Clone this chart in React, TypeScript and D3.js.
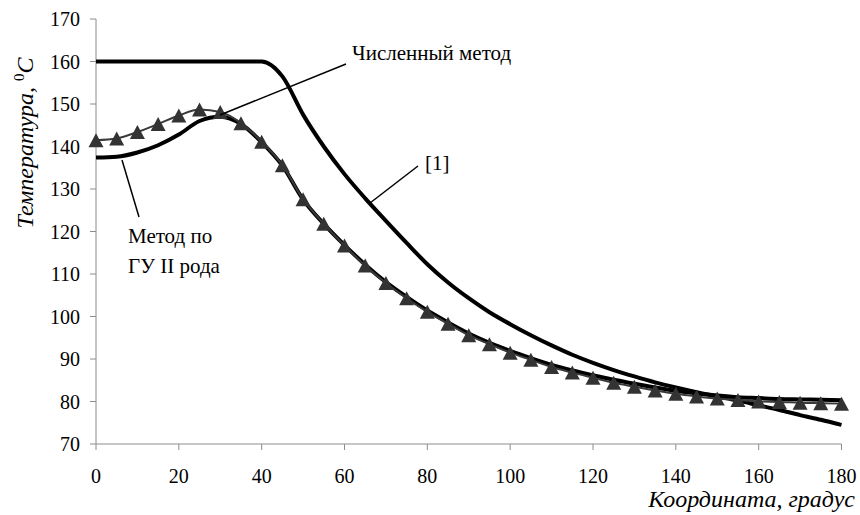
import React from "react";
import * as d3 from "d3";

const xValues = [0, 5, 10, 15, 20, 25, 30, 35, 40, 45, 50, 55, 60, 65, 70, 75, 80, 85, 90, 95, 100, 105, 110, 115, 120, 125, 130, 135, 140, 145, 150, 155, 160, 165, 170, 175, 180];

// Численный метод (triangles)
const numericValues = [141.5, 141.9, 143.4, 145.3, 147.3, 148.7, 148.1, 145.5, 141.1, 135.6, 127.6, 121.8, 116.7, 112.0, 107.9, 104.3, 101.1, 98.3, 95.6, 93.5, 91.5, 89.8, 88.1, 86.8, 85.6, 84.4, 83.5, 82.6, 81.8, 81.2, 80.7, 80.35, 80.0, 79.9, 79.7, 79.6, 79.5];

// Метод по ГУ II рода
const bcMethodValues = [137.4, 137.6, 138.6, 140.3, 142.8, 146.0, 147.0, 145.3, 141.0, 135.5, 127.5, 121.8, 116.8, 112.2, 108.1, 104.6, 101.4, 98.6, 96.0, 93.8, 91.9, 90.2, 88.6, 87.3, 86.2, 85.1, 84.2, 83.3, 82.5, 81.9, 81.4, 81.0, 80.8, 80.6, 80.5, 80.4, 80.3];

// [1]
const refValues = [160, 160, 160, 160, 160, 160, 160, 160, 160, 156.5, 147.5, 140.0, 133.5, 127.8, 122.5, 117.3, 112.3, 108.0, 104.3, 101.0, 98.2, 95.6, 93.2, 91.0, 89.1, 87.4, 85.9, 84.5, 83.3, 82.2, 81.2, 80.2, 79.1, 78.0, 76.8, 75.7, 74.5];

const xTicks = [0, 20, 40, 60, 80, 100, 120, 140, 160, 180];
const yTicks = [70, 80, 90, 100, 110, 120, 130, 140, 150, 160, 170];

const FONT = "'Times New Roman', Tinos, 'Liberation Serif', 'DejaVu Serif', serif";

export default function App() {
  const width = 860;
  const height = 515;
  const x = d3.scaleLinear().domain([0, 180]).range([96, 841.5]);
  const y = d3.scaleLinear().domain([70, 170]).range([444, 19]);

  const mk = (vals: number[]) =>
    d3
      .line<number>()
      .x((_, i) => x(xValues[i]))
      .y((v) => y(v))
      .curve(d3.curveMonotoneX)(vals) || "";

  const axisColor = "#8c8c8c";
  const tri = (cx: number, cy: number) => {
    const w = 7.5;
    const h = 7;
    return `M${cx},${cy - h}L${cx + w},${cy + h}L${cx - w},${cy + h}Z`;
  };

  const textStyle = { fontFamily: FONT } as React.CSSProperties;

  return (
    <svg
      width={width}
      height={height}
      style={{ position: "absolute", left: 0, top: 0, background: "#fff" }}
    >
      <rect x={0} y={0} width={width} height={height} fill="#fff" />
      {/* axes */}
      <line x1={x(0)} x2={x(0)} y1={y(170)} y2={y(70)} stroke={axisColor} strokeWidth={1} />
      <line x1={x(0)} x2={x(180)} y1={y(70)} y2={y(70)} stroke={axisColor} strokeWidth={1} />
      {yTicks.map((t) => (
        <g key={"y" + t}>
          <line x1={x(0) - 6} x2={x(0)} y1={y(t)} y2={y(t)} stroke={axisColor} />
          <text
            x={80}
            y={y(t)}
            dy="0.35em"
            textAnchor="end"
            style={textStyle}
            fontSize={20}
            fill="#000"
          >
            {t}
          </text>
        </g>
      ))}
      {xTicks.map((t) => (
        <g key={"x" + t}>
          <line x1={x(t)} x2={x(t)} y1={y(70)} y2={y(70) + 6} stroke={axisColor} />
          <text
            x={x(t)}
            y={483}
            textAnchor="middle"
            style={textStyle}
            fontSize={20}
            fill="#000"
          >
            {t}
          </text>
        </g>
      ))}

      {/* series */}
      <path d={mk(refValues)} fill="none" stroke="#000" strokeWidth={4} strokeLinejoin="round" />
      <path d={mk(bcMethodValues)} fill="none" stroke="#000" strokeWidth={4} strokeLinejoin="round" />
      <path d={mk(numericValues)} fill="none" stroke="#3a3a3a" strokeWidth={2} />
      {numericValues.map((v, i) => (
        <path key={"m" + i} d={tri(x(xValues[i]), y(v))} fill="#333" />
      ))}

      {/* annotations */}
      <line x1={220} y1={115} x2={346} y2={64} stroke="#000" strokeWidth={1.5} />
      <text x={352} y={60} style={textStyle} fontSize={21} fill="#000">
        Численный метод
      </text>

      <line x1={122} y1={160} x2={139} y2={217} stroke="#000" strokeWidth={1.5} />
      <text x={128} y={243} style={textStyle} fontSize={21} fill="#000">
        Метод по
      </text>
      <text x={128} y={273} style={textStyle} fontSize={21} fill="#000">
        ГУ II рода
      </text>

      <line x1={370} y1={203} x2={418} y2={166} stroke="#000" strokeWidth={1.5} />
      <text x={425} y={170} style={textStyle} fontSize={21} fill="#000">
        [1]
      </text>

      {/* axis titles */}
      <text
        transform={`translate(33,143) rotate(-90)`}
        textAnchor="middle"
        style={textStyle}
        fontSize={24}
        fontStyle="italic"
        fill="#000"
      >
        Температура,{" "}
        <tspan fontSize={15} fontStyle="normal" dy={-9}>
          0
        </tspan>
        <tspan dy={9}>C</tspan>
      </text>
      <text
        x={855}
        y={507}
        textAnchor="end"
        style={textStyle}
        fontSize={24}
        fontStyle="italic"
        fill="#000"
      >
        Координата, градус
      </text>
    </svg>
  );
}
